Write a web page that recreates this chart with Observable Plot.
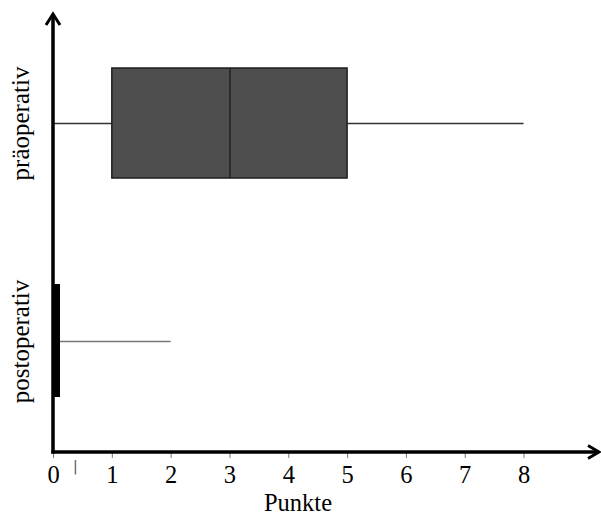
<!DOCTYPE html>
<html>
<head>
<meta charset="utf-8">
<script src="https://cdn.jsdelivr.net/npm/d3@7"></script>
<script src="https://cdn.jsdelivr.net/npm/@observablehq/plot@0.6"></script>
<style>
  html, body { margin: 0; padding: 0; background: #fff; }
</style>
</head>
<body>
<div id="chart"></div>
<script>
// Data
const groups  = ["präoperativ", "postoperativ"];
const mins    = [0, 0];
const q1s     = [1, 0];
const medians = [3, 0];
const q3s     = [5, 0];
const maxs    = [8, 2];
const xTicks  = [0, 1, 2, 3, 4, 5, 6, 7, 8];
const xLabel  = "Punkte";
const stray   = [0.37];
const xMax    = 9.3;

const rows = groups.map((g, i) => ({
  group: g, min: mins[i], q1: q1s[i], median: medians[i], q3: q3s[i], max: maxs[i]
}));
const boxes = rows.filter(d => d.q3 > d.q1);
const flat  = rows.filter(d => d.q3 === d.q1);

const serif = "'Liberation Serif', 'Times New Roman', serif";

function axesMark(index, scales, values, dimensions) {
  const {width, height, marginLeft, marginRight, marginTop, marginBottom} = dimensions;
  const x0 = marginLeft, y0 = height - marginBottom, x1 = width - marginRight - 1, y1 = marginTop;
  const g = d3.create("svg:g")
    .attr("stroke", "#000").attr("fill", "none")
    .attr("stroke-width", 3.5).attr("stroke-linecap", "butt");
  g.append("path").attr("d", `M${x0},${y0 + 1.5}V${y1 + 1}`);
  g.append("path").attr("d", `M${x0 - 1.7},${y0}H${x1}`);
  g.append("path").attr("stroke-width", 3).attr("stroke-linejoin", "miter")
    .attr("d", `M${x0 - 7},${y1 + 12}L${x0},${y1 + 1}L${x0 + 7},${y1 + 12}`);
  g.append("path").attr("stroke-width", 3).attr("stroke-linejoin", "miter")
    .attr("d", `M${x1 - 11},${y0 - 6.5}L${x1},${y0}L${x1 - 11},${y0 + 6.5}`);
  return g.node();
}

const chart = Plot.plot({
  width: 601,
  height: 518,
  marginLeft: 53,
  marginRight: 1,
  marginTop: 13,
  marginBottom: 66,
  style: {fontFamily: serif, background: "#fff", color: "#000"},
  x: {domain: [0, xMax]},
  y: {domain: groups, range: [14, 450], padding: 0, axis: null},
  marks: [
    // whiskers
    Plot.ruleY(rows, {y: "group", x1: "min", x2: "q1", stroke: d => d.q3 > d.q1 ? "#333" : "#777", strokeWidth: 1.5}),
    Plot.ruleY(rows, {y: "group", x1: "q3", x2: "max", stroke: d => d.q3 > d.q1 ? "#333" : "#777", strokeWidth: 1.5}),
    // boxes
    Plot.barX(boxes, {y: "group", x1: "q1", x2: "q3", insetTop: 54, insetBottom: 54, fill: "#4e4e4e", stroke: "#1e1e1e", strokeWidth: 1.5}),
    Plot.tickX(boxes, {x: "median", y: "group", insetTop: 54, insetBottom: 54, stroke: "#222", strokeWidth: 1.5}),
    Plot.barX(flat, {y: "group", x1: "q1", x2: "q3", insetTop: 52, insetBottom: 53, insetRight: -7, fill: "#000"}),
    // x axis ticks & labels
    Plot.axisX({ticks: xTicks, tickSize: 6, tickPadding: 7, fontSize: 24.5, stroke: "#777", fill: "#000", label: null, tickFormat: d => String(d)}),
    Plot.text(stray, {x: d => d, frameAnchor: "bottom", text: () => "|", dy: 18, fontSize: 14, fill: "#555", fontFamily: "DejaVu Sans"}),
    Plot.text([xLabel], {frameAnchor: "bottom", text: d => d, dx: -29, dy: 41.5, lineAnchor: "top", fontSize: 24.5}),
    // group labels
    Plot.text(groups, {y: d => d, text: d => d, frameAnchor: "left", textAnchor: "middle", rotate: -90, dx: -33, fontSize: 25, fill: "#000"}),
    axesMark
  ]
});
document.getElementById("chart").appendChild(chart);
</script>
</body>
</html>
